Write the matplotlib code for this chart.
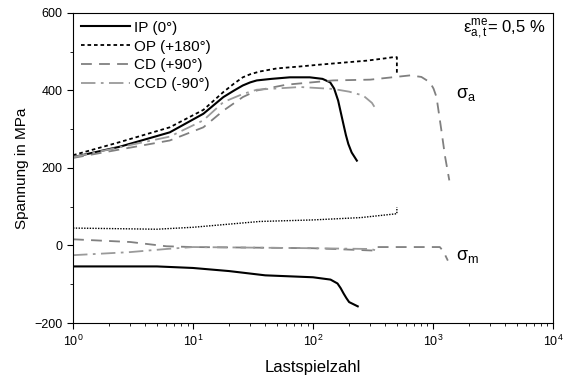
import matplotlib
matplotlib.use("Agg")
from matplotlib import pyplot as plt
from matplotlib.ticker import MultipleLocator, LogLocator, NullFormatter

plt.rcParams['font.family'] = ['Liberation Sans', 'DejaVu Sans']
plt.rcParams['mathtext.fontset'] = 'custom'
plt.rcParams['mathtext.rm'] = 'Liberation Sans'
plt.rcParams['mathtext.it'] = 'Liberation Sans:italic'

# stress amplitude sigma_a (cycles, MPa)
ip_a_n = [1, 2.46, 6.4, 12.2, 17.9, 22, 26, 30, 34, 45, 64, 94, 120, 139, 150,
          162, 170, 179, 188, 197, 210, 232]
ip_a_s = [228, 255, 292, 340, 383, 400, 413, 421, 426, 430, 434, 434, 430, 421, 405,
          374, 345, 314, 285, 262, 240, 219]
op_a_n = [1, 2.46, 6.4, 12.2, 17.9, 22, 26, 30, 36, 50, 78, 107, 180, 280, 400, 466, 500, 500]
op_a_s = [233, 267, 305, 350, 396, 418, 434, 442, 449, 457, 462, 466, 472, 477, 483, 486, 486, 443]
cd_a_n = [1, 6.4, 12.2, 17.9, 26, 34, 60, 147, 300, 646, 800, 944, 1010, 1070, 1175, 1260, 1368]
cd_a_s = [226, 271, 305, 348, 383, 400, 415, 426, 428, 439, 435, 421, 405, 383, 297, 230, 168]
ccd_a_n = [1, 6.4, 12.2, 17.9, 26, 34, 78, 147, 200, 262, 310, 340]
ccd_a_s = [228, 281, 323, 370, 391, 402, 409, 404, 397, 387, 368, 348]

# mean stress sigma_m
ip_m_n = [1, 5, 10, 20, 40, 100, 140, 160, 170, 180, 190, 200, 236]
ip_m_s = [-54, -54, -58, -66, -77, -82, -88, -98, -110, -124, -136, -146, -157]
op_m_n = [1, 5, 10, 36, 100, 250, 500, 500]
op_m_s = [45, 42, 47, 62, 66, 72, 82, 99]
cd_m_n = [1, 3, 6, 10, 100, 316, 330, 1140, 1220, 1330]
cd_m_s = [16, 9, -2, -4, -7, -13, -4, -4, -15, -39]
ccd_m_n = [1, 3, 6, 10, 100, 300, 340]
ccd_m_s = [-25, -17, -9, -4, -7, -9, -13]

labels = ['IP (0°)', 'OP (+180°)', 'CD (+90°)', 'CCD (-90°)']

fig = plt.figure(figsize=(5.63, 3.80), dpi=100)
ax = fig.add_axes([0.1297, 0.15, 0.8525, 0.8158])

st_ip = dict(color='black', lw=1.5, ls='-')
st_op = dict(color='black', lw=1.3, ls=(0, (2, 1.6)))
st_cd = dict(color='#808080', lw=1.3, ls=(0, (6, 4)))
st_ccd = dict(color='#9a9a9a', lw=1.3, ls=(0, (8, 3, 1.5, 3)))

ax.plot(ip_a_n, ip_a_s, label=labels[0], **st_ip)
ax.plot(op_a_n, op_a_s, label=labels[1], **st_op)
ax.plot(cd_a_n, cd_a_s, label=labels[2], **st_cd)
ax.plot(ccd_a_n, ccd_a_s, label=labels[3], **st_ccd)

ax.plot(ip_m_n, ip_m_s, **st_ip)
ax.plot(op_m_n, op_m_s, color='black', lw=1.0, ls=(0, (1, 1)))
ax.plot(cd_m_n, cd_m_s, **st_cd)
ax.plot(ccd_m_n, ccd_m_s, **st_ccd)

ax.set_xscale('log')
ax.set_xlim(1, 1e4)
ax.set_ylim(-200, 600)
ax.yaxis.set_major_locator(MultipleLocator(200))
ax.yaxis.set_minor_locator(MultipleLocator(100))
ax.xaxis.set_minor_locator(LogLocator(base=10, subs=range(2, 10)))
ax.xaxis.set_minor_formatter(NullFormatter())
ax.tick_params(which='both', direction='out', top=False, right=False, labelsize=9)
ax.tick_params(which='major', length=4)
ax.tick_params(which='minor', length=2.5)

ax.set_xlabel('Lastspielzahl', fontsize=12, labelpad=8)
ax.set_ylabel('Spannung in MPa', fontsize=11, labelpad=4)

ax.legend(loc='upper left', frameon=False, fontsize=11, handlelength=3.2,
          handletextpad=0.3, labelspacing=0.32, borderaxespad=0.1)

ax.text(0.985, 0.985, r'$\mathrm{ε^{me}_{a,t}}$= 0,5 %', transform=ax.transAxes,
        ha='right', va='top', fontsize=12)
ax.text(1550, 390, r'$\mathrm{σ_a}$', fontsize=13, va='center')
ax.text(1550, -28, r'$\mathrm{σ_m}$', fontsize=13, va='center')

fig.savefig('out.png', dpi=100)
